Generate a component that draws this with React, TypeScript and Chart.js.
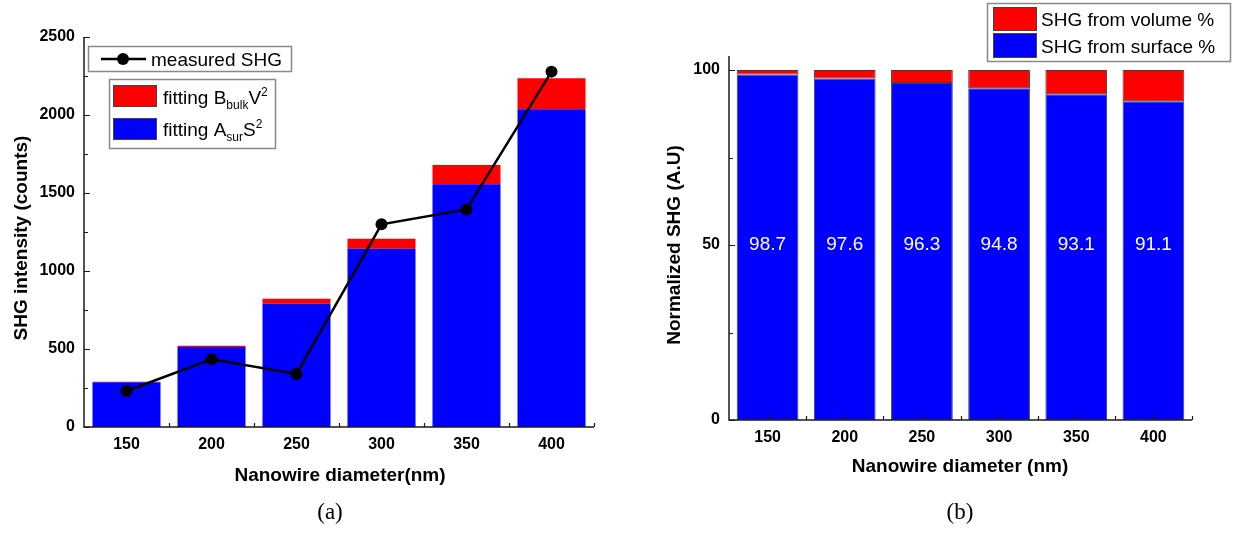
import React, { useEffect, useRef } from "react";
import { Chart, registerables } from "chart.js";
Chart.register(...registerables);

const diameters = ["150", "200", "250", "300", "350", "400"];
const fitSurface = [287, 513, 790, 1143, 1556, 2037];
const fitBulk = [3, 8, 32, 64, 123, 198];
const measuredSHG = [231, 434, 340, 1299, 1395, 2278];
const surfacePercent = [98.7, 97.6, 96.3, 94.8, 93.1, 91.1];
const volumePercent = [1.3, 2.4, 3.7, 5.2, 6.9, 8.9];
const leftTickValues = [0, 500, 1000, 1500, 2000, 2500];
const leftMinorValues = [250, 750, 1250, 1750, 2250];
const rightTickValues = [0, 50, 100];
const rightMinorValues = [25, 75];

const SANS = '"Liberation Sans", Arial, sans-serif';
const RED = "#ff0000";
const BLUE = "#0000ff";
const AXIS = "#1a1a1a";

type Part = { t: string; sub?: boolean; sup?: boolean };

function drawRich(ctx: CanvasRenderingContext2D, x: number, baseline: number, parts: Part[], size: number, small: number) {
  ctx.save();
  ctx.fillStyle = "#000";
  ctx.textAlign = "left";
  ctx.textBaseline = "alphabetic";
  let cx = x;
  for (const p of parts) {
    const s = p.sub || p.sup ? small : size;
    ctx.font = `${s}px ${SANS}`;
    const y = p.sub ? baseline + 5 : p.sup ? baseline - 8 : baseline;
    ctx.fillText(p.t, cx, y);
    cx += ctx.measureText(p.t).width;
  }
  ctx.restore();
}

function drawAxes(chart: any, yMajor: number[], yMinor: number[], centerTicks: boolean) {
  const ctx: CanvasRenderingContext2D = chart.ctx;
  const { left, right, top, bottom } = chart.chartArea;
  const xs = chart.scales.x;
  const ys = chart.scales.y;
  ctx.save();
  ctx.strokeStyle = AXIS;
  ctx.lineWidth = 1.5;
  ctx.beginPath();
  ctx.moveTo(left, top);
  ctx.lineTo(left, bottom);
  ctx.lineTo(right, bottom);
  ctx.stroke();
  ctx.lineWidth = 1.2;
  ctx.beginPath();
  for (const v of yMajor) {
    const y = Math.round(ys.getPixelForValue(v)) + 0.5;
    ctx.moveTo(left, y);
    ctx.lineTo(left + 6, y);
  }
  for (const v of yMinor) {
    const y = Math.round(ys.getPixelForValue(v)) + 0.5;
    ctx.moveTo(left, y);
    ctx.lineTo(left + 4, y);
  }
  const n = diameters.length;
  for (let i = 0; i < n; i++) {
    const c = xs.getPixelForValue(i);
    const next = i < n - 1 ? xs.getPixelForValue(i + 1) : c + (c - xs.getPixelForValue(i - 1));
    const b = Math.round((c + next) / 2) + 0.5;
    ctx.moveTo(b, bottom);
    ctx.lineTo(b, bottom - 4);
    if (centerTicks) {
      const cc = Math.round(c) + 0.5;
      ctx.moveTo(cc, bottom);
      ctx.lineTo(cc, bottom - 6);
    }
  }
  ctx.stroke();
  ctx.restore();
}

function drawTitles(ctx: CanvasRenderingContext2D, xTitle: string, xPos: [number, number], yTitle: string, yPos: [number, number]) {
  ctx.save();
  ctx.fillStyle = "#000";
  ctx.font = `bold 19px ${SANS}`;
  ctx.textAlign = "center";
  ctx.textBaseline = "middle";
  ctx.fillText(xTitle, xPos[0], xPos[1]);
  ctx.translate(yPos[0], yPos[1]);
  ctx.rotate(-Math.PI / 2);
  ctx.fillText(yTitle, 0, 0);
  ctx.restore();
}

const tickFont = { family: SANS, size: 16, weight: "bold" as const };
const plainTick = (v: any) => String(v);

function LeftChart() {
  const ref = useRef<HTMLCanvasElement>(null);
  useEffect(() => {
    if (!ref.current) return;
    const decor = {
      id: "decorLeft",
      afterDatasetsDraw(chart: any) {
        drawAxes(chart, leftTickValues, leftMinorValues, false);
      },
      afterDraw(chart: any) {
        const ctx: CanvasRenderingContext2D = chart.ctx;
        drawTitles(ctx, "Nanowire diameter(nm)", [340, 476], "SHG intensity (counts)", [22, 238]);
        ctx.save();
        ctx.fillStyle = "#fff";
        ctx.strokeStyle = "#8a8a8a";
        ctx.lineWidth = 1.5;
        ctx.fillRect(88, 46, 203, 25);
        ctx.strokeRect(88.5, 46.5, 203, 25);
        ctx.strokeStyle = "#000";
        ctx.lineWidth = 2.5;
        ctx.beginPath();
        ctx.moveTo(101, 59);
        ctx.lineTo(146, 59);
        ctx.stroke();
        ctx.fillStyle = "#000";
        ctx.beginPath();
        ctx.arc(123, 59, 6, 0, Math.PI * 2);
        ctx.fill();
        ctx.fillStyle = "#fff";
        ctx.strokeStyle = "#8a8a8a";
        ctx.lineWidth = 1.5;
        ctx.fillRect(109, 79, 166, 69);
        ctx.strokeRect(109.5, 79.5, 166, 69);
        ctx.fillStyle = RED;
        ctx.fillRect(113, 85, 44, 22);
        ctx.fillStyle = BLUE;
        ctx.fillRect(113, 118, 44, 22);
        ctx.strokeStyle = "#444";
        ctx.lineWidth = 1;
        ctx.strokeRect(113.5, 85.5, 43, 21);
        ctx.strokeRect(113.5, 118.5, 43, 21);
        ctx.restore();
        drawRich(ctx, 151, 66, [{ t: "measured SHG" }], 19, 12);
        drawRich(ctx, 163, 104, [{ t: "fitting B" }, { t: "bulk", sub: true }, { t: "V" }, { t: "2", sup: true }], 19, 12);
        drawRich(ctx, 163, 136, [{ t: "fitting A" }, { t: "sur", sub: true }, { t: "S" }, { t: "2", sup: true }], 19, 12);
      },
    };
    const chart = new Chart(ref.current, {
      type: "bar",
      data: {
        labels: diameters,
        datasets: [
          {
            type: "line",
            label: "measured SHG",
            data: measuredSHG,
            borderColor: "#000",
            backgroundColor: "#000",
            borderWidth: 2.5,
            pointRadius: 6,
            pointBackgroundColor: "#000",
            pointBorderWidth: 0,
            stack: "measured",
            order: 0,
          } as any,
          {
            label: "fitting A_sur S^2",
            data: fitSurface,
            backgroundColor: BLUE,
            stack: "fit",
            order: 1,
            barPercentage: 0.8,
            categoryPercentage: 1,
          },
          {
            label: "fitting B_bulk V^2",
            data: fitBulk,
            backgroundColor: RED,
            stack: "fit",
            order: 1,
            barPercentage: 0.8,
            categoryPercentage: 1,
          },
        ],
      },
      options: {
        animation: false,
        responsive: false,
        maintainAspectRatio: false,
        layout: { padding: { left: 0, top: 37, right: 26, bottom: 0 } },
        plugins: { legend: { display: false }, tooltip: { enabled: false } },
        scales: {
          x: {
            stacked: true,
            offset: true,
            grid: { display: false, drawTicks: false },
            border: { display: false },
            ticks: { font: tickFont, color: "#000", padding: 8, maxRotation: 0 },
            afterFit: (s: any) => {
              s.height = 107;
            },
          },
          y: {
            stacked: true,
            min: 0,
            max: 2500,
            grid: { display: false, drawTicks: false },
            border: { display: false },
            ticks: { font: tickFont, color: "#000", padding: 9, callback: plainTick },
            afterBuildTicks: (s: any) => {
              s.ticks = leftTickValues.map((v) => ({ value: v }));
            },
            afterFit: (s: any) => {
              s.width = 84;
            },
          },
        },
      } as any,
      plugins: [decor],
    });
    return () => chart.destroy();
  }, []);
  return <canvas ref={ref} width={620} height={534} style={{ position: "absolute", left: 0, top: 0, width: 620, height: 534 }} />;
}

function RightChart() {
  const ref = useRef<HTMLCanvasElement>(null);
  useEffect(() => {
    if (!ref.current) return;
    const decor = {
      id: "decorRight",
      afterDatasetsDraw(chart: any) {
        drawAxes(chart, rightTickValues, rightMinorValues, true);
        const ctx: CanvasRenderingContext2D = chart.ctx;
        const xs = chart.scales.x;
        const ys = chart.scales.y;
        ctx.save();
        ctx.fillStyle = "#fff";
        ctx.font = `19px ${SANS}`;
        ctx.textAlign = "center";
        ctx.textBaseline = "middle";
        surfacePercent.forEach((v, i) => {
          ctx.fillText(v.toFixed(1), xs.getPixelForValue(i), ys.getPixelForValue(50));
        });
        ctx.restore();
      },
      afterDraw(chart: any) {
        const ctx: CanvasRenderingContext2D = chart.ctx;
        drawTitles(ctx, "Nanowire diameter (nm)", [340, 467], "Normalized SHG (A.U)", [55, 245]);
        ctx.save();
        ctx.fillStyle = "#fff";
        ctx.strokeStyle = "#8a8a8a";
        ctx.lineWidth = 1.5;
        ctx.fillRect(367, 3, 243, 58);
        ctx.strokeRect(367.5, 3.5, 243, 58);
        ctx.fillStyle = RED;
        ctx.fillRect(373, 7, 44, 24);
        ctx.fillStyle = BLUE;
        ctx.fillRect(373, 33, 44, 25);
        ctx.strokeStyle = "#444";
        ctx.lineWidth = 1;
        ctx.strokeRect(373.5, 7.5, 43, 23);
        ctx.strokeRect(373.5, 33.5, 43, 24);
        ctx.restore();
        drawRich(ctx, 421, 26, [{ t: "SHG from volume %" }], 19, 12);
        drawRich(ctx, 421, 53, [{ t: "SHG from surface %" }], 19, 12);
      },
    };
    const chart = new Chart(ref.current, {
      type: "bar",
      data: {
        labels: diameters,
        datasets: [
          {
            label: "SHG from surface %",
            data: surfacePercent,
            backgroundColor: BLUE,
            borderColor: "rgba(30,30,60,0.85)",
            borderWidth: 1,
            borderSkipped: false,
            stack: "pct",
            barPercentage: 0.8,
            categoryPercentage: 1,
          },
          {
            label: "SHG from volume %",
            data: volumePercent,
            backgroundColor: RED,
            borderColor: "rgba(40,20,20,0.85)",
            borderWidth: 1,
            borderSkipped: false,
            stack: "pct",
            barPercentage: 0.8,
            categoryPercentage: 1,
          },
        ],
      },
      options: {
        animation: false,
        responsive: false,
        maintainAspectRatio: false,
        layout: { padding: { left: 0, top: 56, right: 46, bottom: 0 } },
        plugins: { legend: { display: false }, tooltip: { enabled: false } },
        scales: {
          x: {
            stacked: true,
            offset: true,
            grid: { display: false, drawTicks: false },
            border: { display: false },
            ticks: { font: tickFont, color: "#000", padding: 8, maxRotation: 0 },
            afterFit: (s: any) => {
              s.height = 114;
            },
          },
          y: {
            stacked: true,
            min: 0,
            max: 104,
            grid: { display: false, drawTicks: false },
            border: { display: false },
            ticks: { font: tickFont, color: "#000", padding: 9, callback: plainTick },
            afterBuildTicks: (s: any) => {
              s.ticks = rightTickValues.map((v) => ({ value: v }));
            },
            afterFit: (s: any) => {
              s.width = 109;
            },
          },
        },
      } as any,
      plugins: [decor],
    });
    return () => chart.destroy();
  }, []);
  return <canvas ref={ref} width={618} height={534} style={{ position: "absolute", left: 620, top: 0, width: 618, height: 534 }} />;
}

const captionStyle: React.CSSProperties = {
  position: "absolute",
  top: 498,
  width: 100,
  textAlign: "center",
  fontFamily: '"Liberation Serif", "Times New Roman", serif',
  fontSize: 23,
  lineHeight: "28px",
  color: "#000",
};

export default function App() {
  return (
    <div style={{ position: "fixed", left: 0, top: 0, width: 1238, height: 534, background: "#fff", overflow: "hidden" }}>
      <LeftChart />
      <RightChart />
      <div style={{ ...captionStyle, left: 280 }}>(a)</div>
      <div style={{ ...captionStyle, left: 910 }}>(b)</div>
    </div>
  );
}
